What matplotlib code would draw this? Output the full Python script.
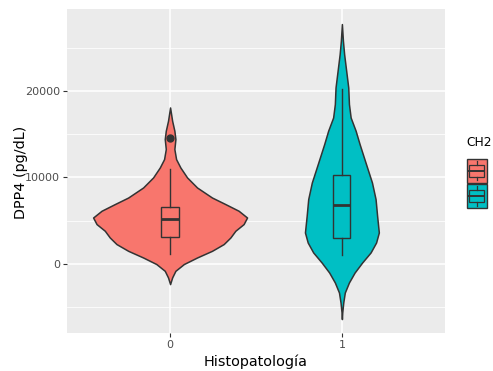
import matplotlib.pyplot as plt
from matplotlib.patches import Rectangle
from matplotlib.lines import Line2D

# CH2 groups on the Histopatología axis
groups = ["0", "1"]
fills = ["#F8766D", "#00BFC4"]

# violin outlines: DPP4 value and half-width (in category units)
v0_y = [18070, 16530, 15380, 14420, 13260, 12100, 11130, 9980, 8820, 7660,
        6900, 6130, 5350, 4590, 3820, 3040, 2280, 1500, 730, -30, -810,
        -1580, -2350]
v0_w = [0, 0.012, 0.025, 0.031, 0.025, 0.035, 0.060, 0.099, 0.157, 0.244,
        0.322, 0.399, 0.448, 0.428, 0.380, 0.351, 0.312, 0.244, 0.157, 0.080,
        0.031, 0.012, 0]
v1_y = [27710, 25780, 24240, 22310, 20380, 18460, 16910, 15380, 13840, 12290,
        10750, 9400, 7480, 5550, 3620, 2460, 1310, 150, -1010, -2160, -3320,
        -4470, -5630, -6390]
v1_w = [0, 0.006, 0.013, 0.025, 0.037, 0.041, 0.051, 0.080, 0.103, 0.128,
        0.153, 0.175, 0.196, 0.205, 0.215, 0.199, 0.167, 0.118, 0.074, 0.041,
        0.017, 0.008, 0.002, 0]

# boxplot summaries
q1 = [3040, 2970]
med = [5170, 6790]
q3 = [6510, 10290]
whis_lo = [1190, 1040]
whis_hi = [10950, 20200]
outliers = [[14490], []]

edge = "#333333"

fig = plt.figure(figsize=(4.93, 3.71), dpi=100)
ax = fig.add_axes([0.1359, 0.1024, 0.7667, 0.8733])
ax.set_facecolor("#EBEBEB")

for i, (ys, ws) in enumerate([(v0_y, v0_w), (v1_y, v1_w)]):
    left = [i - w for w in ws]
    right = [i + w for w in ws]
    ax.fill_betweenx(ys, left, right, facecolor=fills[i], edgecolor=edge,
                     linewidth=1.1, zorder=2)

stats = []
for i in range(len(groups)):
    stats.append(dict(med=med[i], q1=q1[i], q3=q3[i], whislo=whis_lo[i],
                      whishi=whis_hi[i], fliers=outliers[i]))
bp = ax.bxp(stats, positions=[0, 1], widths=0.1, patch_artist=True,
            showcaps=False, manage_ticks=False,
            boxprops=dict(edgecolor=edge, linewidth=1.0),
            whiskerprops=dict(color=edge, linewidth=1.0),
            medianprops=dict(color=edge, linewidth=2.0),
            flierprops=dict(marker="o", markerfacecolor=edge,
                            markeredgecolor=edge, markersize=5))
for patch, c in zip(bp["boxes"], fills):
    patch.set_facecolor(c)
for artist_list in bp.values():
    for a in artist_list:
        a.set_zorder(3)

ax.set_xlim(-0.6, 1.6)
ax.set_ylim(-8000, 29450)
ax.set_xticks([0, 1])
ax.set_xticklabels(groups)
ax.set_yticks([0, 10000, 20000])
ax.set_yticks([-5000, 5000, 15000, 25000], minor=True)
ax.grid(which="major", color="white", linewidth=1.1)
ax.grid(which="minor", axis="y", color="white", linewidth=0.55)
ax.set_axisbelow(True)
for s in ax.spines.values():
    s.set_visible(False)
ax.tick_params(axis="both", which="major", length=3, width=0.8,
               color=edge, labelcolor="#4D4D4D", labelsize=8.0, pad=2)
ax.tick_params(axis="y", which="minor", length=0)

ax.set_xlabel("Histopatología", fontsize=10.4, color="black", labelpad=3)
ax.set_ylabel("DPP4 (pg/dL)", fontsize=10.4, color="black")
ax.yaxis.set_label_coords(-0.103, 0.497)

# legend: violin key with a boxplot glyph on top
px = lambda x, y: (x / 493, 1 - y / 371)
fig.text(*px(466, 143), "CH2", fontsize=8.8, va="center", ha="left")
key_x, key_w, key_h = 467, 19.5, 24
for k, c in enumerate(fills):
    top = 158.5 + k * 25.5
    x0, y0 = px(key_x, top + key_h)
    fig.add_artist(Rectangle((x0, y0), key_w / 493, key_h / 371,
                             facecolor=c, edgecolor=edge, linewidth=1.0,
                             transform=fig.transFigure))
    cx = key_x + key_w / 2
    bx0, bx1 = key_x + 0.125 * key_w, key_x + 0.875 * key_w
    yb_top, yb_bot = top + 0.25 * key_h, top + 0.75 * key_h
    bxa, bya = px(bx0, yb_bot)
    fig.add_artist(Rectangle((bxa, bya), (bx1 - bx0) / 493,
                             (yb_bot - yb_top) / 371, facecolor=c,
                             edgecolor=edge, linewidth=0.9,
                             transform=fig.transFigure))
    for ya, yb in [(top + 0.1 * key_h, yb_top), (yb_bot, top + 0.9 * key_h)]:
        p, q = px(cx, ya), px(cx, yb)
        fig.add_artist(Line2D([p[0], q[0]], [p[1], q[1]], color=edge,
                              linewidth=0.9, transform=fig.transFigure))
    p, q = px(bx0, top + 0.5 * key_h), px(bx1, top + 0.5 * key_h)
    fig.add_artist(Line2D([p[0], q[0]], [p[1], q[1]], color=edge,
                          linewidth=1.4, transform=fig.transFigure))

fig.savefig("out.png", dpi=100, facecolor="white")
